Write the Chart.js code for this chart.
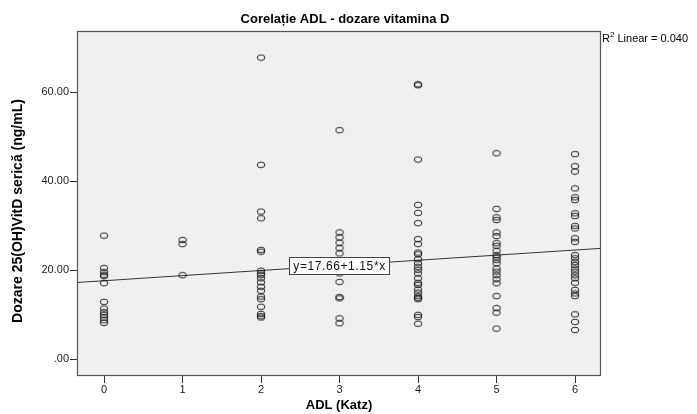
<!DOCTYPE html>
<html>
<head>
<meta charset="utf-8">
<script src="https://cdn.jsdelivr.net/npm/chart.js@4/dist/chart.umd.min.js"></script>
<style>
  html, body { margin: 0; padding: 0; background: #ffffff; }
  #chart { display: block; }
</style>
</head>
<body>
<canvas id="chart" width="697" height="414"></canvas>
<script>
// ADL score categories and measured 25(OH)VitD values per category
var adlScores = [0, 1, 2, 3, 4, 5, 6];
var vitD_adl0 = [27.8, 20.5, 19.6, 19.0, 18.7, 17.1, 12.9, 11.4, 10.6, 10.0, 9.4, 8.8, 8.2];
var vitD_adl1 = [26.8, 25.9, 18.9];
var vitD_adl2 = [67.8, 43.7, 33.2, 31.7, 24.6, 24.2, 19.9, 19.3, 18.9, 18.2, 17.3, 16.3, 15.4, 14.1, 13.5, 11.8, 10.2, 9.7, 9.4];
var vitD_adl3 = [51.5, 28.5, 27.4, 26.2, 25.0, 23.8, 21.0, 19.3, 17.4, 14.0, 13.7, 9.2, 8.1];
var vitD_adl4 = [61.8, 61.6, 44.9, 34.7, 32.9, 30.6, 27.0, 25.9, 24.0, 23.6, 22.5, 21.6, 20.8, 20.1, 19.3, 18.2, 17.2, 16.7, 15.7, 15.0, 14.2, 13.8, 13.5, 10.0, 9.5, 8.0];
var vitD_adl5 = [46.3, 33.8, 31.9, 31.3, 28.5, 27.7, 26.1, 25.5, 24.4, 23.4, 22.9, 22.3, 21.6, 20.4, 19.7, 18.9, 18.0, 17.1, 14.2, 11.5, 10.5, 6.9];
var vitD_adl6 = [46.1, 43.4, 42.2, 38.4, 36.4, 35.8, 32.8, 32.2, 30.0, 29.4, 27.2, 26.4, 23.4, 22.7, 21.9, 21.2, 20.4, 19.7, 18.9, 18.2, 17.2, 15.6, 14.8, 14.2, 10.1, 8.4, 6.6];

// linear fit reported on the chart
var fitIntercept = 17.66;
var fitSlope = 1.15;
var rSquared = 0.040;

var yTickValues = [0, 20, 40, 60];

var xMin = -0.344, xMax = 6.331;
var yMin = -3.75, yMax = 73.78;

var groups = [vitD_adl0, vitD_adl1, vitD_adl2, vitD_adl3, vitD_adl4, vitD_adl5, vitD_adl6];
var scatterPoints = [];
groups.forEach(function(vals, i) {
  vals.forEach(function(v) {
    scatterPoints.push({x: adlScores[i], y: v});
  });
});

var fitPoints = [
  {x: xMin, y: fitIntercept + fitSlope * xMin},
  {x: xMax, y: fitIntercept + fitSlope * xMax}
];

// SPSS-like open ellipse marker
function makeMarker() {
  var c = document.createElement('canvas');
  c.width = 10;
  c.height = 8;
  var g = c.getContext('2d');
  g.strokeStyle = 'rgba(20,20,20,0.9)';
  g.lineWidth = 1;
  g.beginPath();
  g.ellipse(5, 4, 3.8, 2.8, 0, 0, Math.PI * 2);
  g.stroke();
  return c;
}

var fontName = '"Liberation Sans", Arial, sans-serif';

var frame = {
  id: 'spssFrame',
  beforeDraw: function(chart) {
    var ctx = chart.ctx;
    var a = chart.chartArea;
    ctx.save();
    ctx.fillStyle = '#ffffff';
    ctx.fillRect(0, 0, chart.width, chart.height);
    ctx.fillStyle = '#f0f0f0';
    ctx.fillRect(a.left, a.top, a.right - a.left, a.bottom - a.top);
    ctx.restore();
  },
  afterDatasetsDraw: function(chart) {
    var ctx = chart.ctx;
    var a = chart.chartArea;
    ctx.save();
    ctx.strokeStyle = '#555555';
    ctx.lineWidth = 1.2;
    ctx.strokeRect(a.left + 0.5, a.top + 0.5, a.right - a.left - 1, a.bottom - a.top - 1);

    // equation label box on the fit line
    var label = 'y=' + fitIntercept.toFixed(2) + '+' + fitSlope.toFixed(2) + '*x';
    var cx = chart.scales.x.getPixelForValue(3);
    var cy = chart.scales.y.getPixelForValue(fitIntercept + fitSlope * 3);
    ctx.font = '12px ' + fontName;
    ctx.letterSpacing = '0.6px';
    var w = ctx.measureText(label).width + 8;
    var h = 17;
    ctx.fillStyle = '#ffffff';
    ctx.fillRect(Math.round(cx - w / 2) + 0.5, Math.round(cy - h / 2) + 0.5, Math.round(w), h);
    ctx.strokeStyle = '#444444';
    ctx.lineWidth = 1;
    ctx.strokeRect(Math.round(cx - w / 2) + 0.5, Math.round(cy - h / 2) + 0.5, Math.round(w), h);
    ctx.fillStyle = '#111111';
    ctx.textAlign = 'center';
    ctx.textBaseline = 'middle';
    ctx.fillText(label, cx, cy + 1);
    ctx.restore();
  },
  afterDraw: function(chart) {
    var ctx = chart.ctx;
    var a = chart.chartArea;
    ctx.save();
    ctx.fillStyle = '#000000';
    ctx.textAlign = 'center';
    ctx.textBaseline = 'middle';

    ctx.font = 'bold 13px ' + fontName;
    ctx.fillText('Corelație ADL - dozare vitamina D', 345, 19);

    ctx.font = 'bold 13px ' + fontName;
    ctx.fillText('ADL (Katz)', (a.left + a.right) / 2, 405);

    ctx.save();
    ctx.translate(18, 211);
    ctx.rotate(-Math.PI / 2);
    ctx.font = 'bold 14px ' + fontName;
    ctx.fillText('Dozare 25(OH)VitD serică (ng/mL)', 0, 0);
    ctx.restore();

    // R² annotation
    ctx.textAlign = 'left';
    ctx.textBaseline = 'alphabetic';
    var x0 = a.right + 1;
    ctx.font = '11px ' + fontName;
    ctx.fillText('R', x0, 42);
    var rw = ctx.measureText('R').width;
    ctx.font = '8px ' + fontName;
    ctx.fillText('2', x0 + rw, 37);
    var sw = ctx.measureText('2').width;
    ctx.font = '11px ' + fontName;
    ctx.fillText(' Linear = ' + rSquared.toFixed(3), x0 + rw + sw, 42);
    ctx.restore();
  }
};

new Chart(document.getElementById('chart'), {
  type: 'scatter',
  data: {
    datasets: [{
      label: 'Linear',
      type: 'line',
      data: fitPoints,
      borderColor: '#333333',
      borderWidth: 1,
      pointRadius: 0,
      fill: false,
      order: 2
    }, {
      label: 'ADL',
      data: scatterPoints,
      pointStyle: makeMarker(),
      pointRadius: 4,
      order: 1
    }]
  },
  options: {
    responsive: false,
    animation: false,
    layout: {
      padding: {top: 31, right: 96, left: 0, bottom: 0}
    },
    plugins: {
      legend: {display: false},
      tooltip: {enabled: false},
      title: {display: false}
    },
    scales: {
      x: {
        type: 'linear',
        min: xMin,
        max: xMax,
        afterBuildTicks: function(scale) {
          scale.ticks = adlScores.map(function(v) { return {value: v}; });
        },
        afterFit: function(scale) { scale.height = 38; },
        border: {display: false},
        grid: {drawOnChartArea: false, drawTicks: true, tickLength: 7, color: '#333333'},
        ticks: {
          color: '#222222',
          padding: 0,
          font: {family: fontName, size: 11},
          callback: function(v) { return String(v); }
        }
      },
      y: {
        type: 'linear',
        min: yMin,
        max: yMax,
        afterBuildTicks: function(scale) {
          scale.ticks = yTickValues.map(function(v) { return {value: v}; });
        },
        afterFit: function(scale) { scale.width = 77; },
        border: {display: false},
        grid: {drawOnChartArea: false, drawTicks: true, tickLength: 7, color: '#333333'},
        ticks: {
          color: '#222222',
          padding: 1,
          font: {family: fontName, size: 11},
          callback: function(v) { return v === 0 ? '.00' : v.toFixed(2); }
        }
      }
    }
  },
  plugins: [frame]
});
</script>
</body>
</html>
